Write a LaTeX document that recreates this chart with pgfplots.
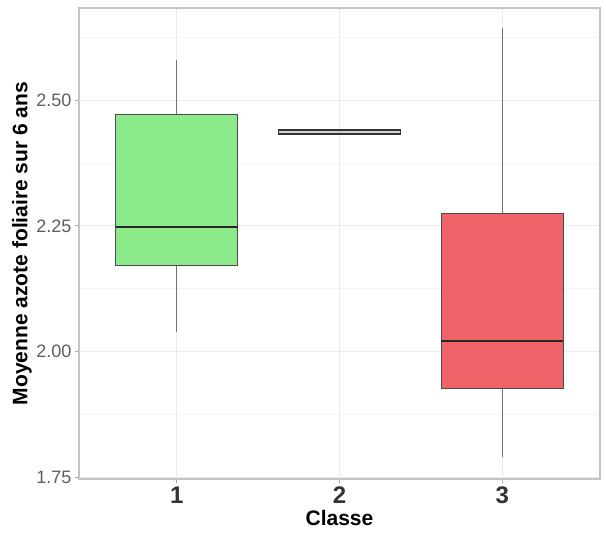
\documentclass[border=0pt]{standalone}
\usepackage{fontspec}
\setmainfont{Liberation Sans}
\usepackage{pgfplots}
\pgfplotsset{compat=1.18}
\usepgfplotslibrary{statistics}
\definecolor{boxgreen}{HTML}{8DEA8A}
\definecolor{boxred}{HTML}{EE6468}
\definecolor{gridc}{HTML}{EBEBEB}
\definecolor{gridm}{HTML}{F4F4F4}
\definecolor{border}{HTML}{C4C4C4}
\definecolor{ticklab}{HTML}{5E5E5E}
\begin{document}
\begin{tikzpicture}
\begin{axis}[
  name=ax,
  scale only axis, width=521pt, height=471pt,
  xmin=0.4, xmax=3.6, ymin=1.747, ymax=2.683,
  xtick={1,2,3}, xticklabels={1,2,3},
  ytick={1.75,2,2.25,2.5},
  minor ytick={1.875,2.125,2.375,2.625},
  grid=both,
  major grid style={draw=gridc, line width=0.8pt},
  minor grid style={draw=gridm, line width=0.6pt},
  axis line style={draw=border, line width=1.6pt},
  tick pos=left, tick align=outside,
  major tick length=4pt, minor tick length=0pt,
  tick style={draw=gray!70, line width=0.8pt},
  /pgf/number format/assume math mode=true,
  yticklabel style={/pgf/number format/.cd, fixed, fixed zerofill, precision=2, /tikz/.cd,
    font=\fontsize{18}{20}\selectfont, text=ticklab},
  xticklabel style={font=\fontsize{24}{26}\selectfont\bfseries, text=black!80},
  xlabel={Classe}, ylabel={Moyenne azote foliaire sur 6 ans},
  xlabel style={font=\fontsize{21}{24}\selectfont\bfseries, at={(axis description cs:0.5,-0.0828)}, anchor=center},
  ylabel style={font=\fontsize{21}{24}\selectfont\bfseries, at={(axis description cs:-0.1094,0.5)}, anchor=center},
  boxplot/draw direction=y,
  boxplot/box extend=0.75,
  boxplot/whisker extend=0,
  boxplot/every whisker/.style={draw=black!55, line width=0.9pt},
  boxplot/every box/.style={draw=black!70, line width=0.9pt},
  boxplot/every median/.style={draw=black!85, line width=1.8pt},
]
\addplot[fill=boxgreen, boxplot prepared={lower whisker=2.04, lower quartile=2.171, median=2.248, upper quartile=2.472, upper whisker=2.579, draw position=1}] coordinates {};
\addplot[fill=gray!35, boxplot prepared={lower whisker=2.4325, lower quartile=2.4325, median=2.4405, upper quartile=2.4405, upper whisker=2.4405, draw position=2},
  boxplot/every box/.style={draw=black!80, line width=1.3pt},
  boxplot/every median/.style={draw=black!80, line width=1.3pt}] coordinates {};
\addplot[fill=boxred, boxplot prepared={lower whisker=1.79, lower quartile=1.927, median=2.022, upper quartile=2.274, upper whisker=2.643, draw position=3}] coordinates {};
\end{axis}
\pgfresetboundingbox
\path ([shift={(-79pt,-54pt)}]ax.south west) rectangle ([shift={(6pt,8pt)}]ax.north east);
\end{tikzpicture}
\end{document}
